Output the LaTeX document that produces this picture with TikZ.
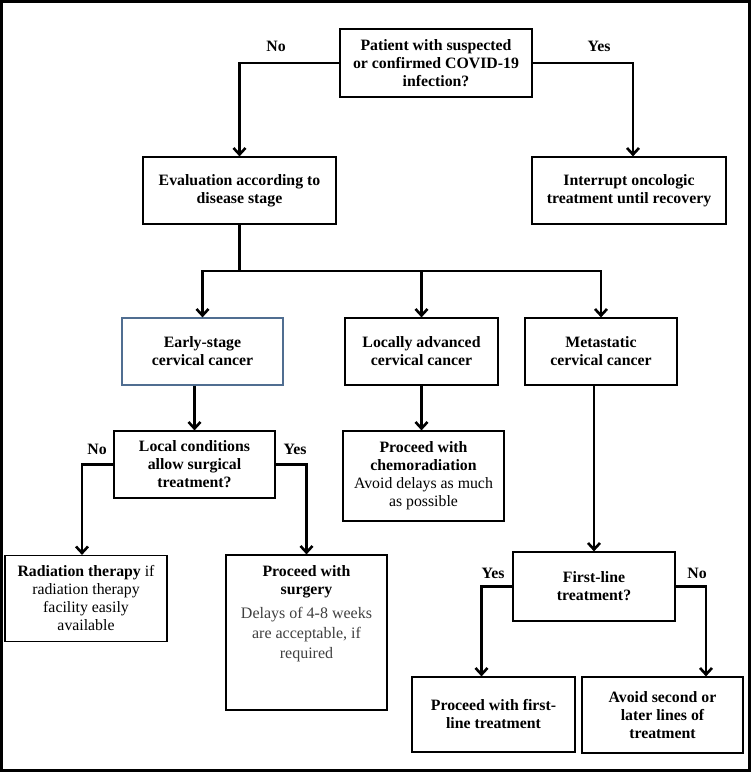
\documentclass[tikz,border=0pt]{standalone}
\usepackage{fontspec}
\setmainfont{Liberation Serif}
\usetikzlibrary{arrows.meta}
\begin{document}
\begin{tikzpicture}[x=1pt,y=-1pt,
  box/.style={draw=black,line width=1.2pt,fill=white,rectangle,inner sep=2pt,align=center,
    font=\fontsize{15.8}{18}\selectfont\bfseries},
  line/.style={draw=black,line width=2.9pt},
  arr/.style={line,-{Straight Barb[length=6.5pt,width=12pt,line width=2.6pt]}},
  lab/.style={font=\fontsize{15.8}{18}\selectfont\bfseries,inner sep=0pt}]
\useasboundingbox (0,0) rectangle (751,772);
\draw[line width=3pt] (1.5,1.5) rectangle (749.5,770.5);

\node[box,minimum width=192pt,minimum height=68pt] (pat) at (436,63) {Patient with suspected\\or confirmed COVID-19\\infection?};
\node[box,minimum width=193pt,minimum height=67pt] (eval) at (239.5,190.5) {Evaluation according to\\disease stage};
\node[box,minimum width=194pt,minimum height=67pt] (intr) at (629,190.5) {Interrupt oncologic\\treatment until recovery};
\node[box,draw={rgb,255:red,80;green,110;blue,145},minimum width=161pt,minimum height=67pt] (early) at (202.5,351.5) {Early-stage\\cervical cancer};
\node[box,minimum width=153pt,minimum height=67pt] (loc) at (421.5,351.5) {Locally advanced\\cervical cancer};
\node[box,minimum width=152pt,minimum height=67pt] (meta) at (601,351.5) {Metastatic\\cervical cancer};
\node[box,minimum width=161pt,minimum height=67pt] (cond) at (194.5,464.5) {Local conditions\\allow surgical\\treatment?};
\node[box,minimum width=161pt,minimum height=90pt] (chemo) at (423.5,476) {Proceed with\\chemoradiation\\{\mdseries Avoid delays as much}\\{\mdseries as possible}};
\node[box,minimum width=162pt,minimum height=86pt] (rad) at (86,598.5) {Radiation therapy{\mdseries{} if}\\{\mdseries radiation therapy}\\{\mdseries facility easily}\\{\mdseries available}};
\node[box,minimum width=161pt,minimum height=155pt,inner sep=0pt] (surg) at (306.5,632.5) {\parbox[c][153pt][t]{157pt}{\centering\vspace{10pt}Proceed with\\surgery\\[4pt]
  {\mdseries\fontsize{16}{20}\selectfont\color[gray]{0.25}Delays of 4-8 weeks\\are acceptable, if\\required\par}}};
\node[box,minimum width=162pt,minimum height=69pt] (first) at (594,586.5) {First-line\\treatment?};
\node[box,minimum width=163pt,minimum height=75pt] (pfl) at (493.5,714.5) {Proceed with first-\\line treatment};
\node[box,minimum width=161pt,minimum height=76pt] (avoid) at (662.5,715) {Avoid second or\\later lines of\\treatment};

% connectors
\coordinate (intrIn) at ([xshift=4pt]intr.north);
\draw[arr] (pat.west) -| (eval.north);
\draw[arr] (pat.east) -| (intrIn);
\coordinate (j) at (eval.south |- 0,271);
\draw[line] (eval.south) -- (j);
\draw[line,line cap=rect] (early.north |- j) -- (meta.north |- j);
\draw[arr] (early.north |- j) -- (early.north);
\draw[arr] (loc.north |- j) -- (loc.north);
\draw[arr] (meta.north |- j) -- (meta.north);
\draw[arr] (cond.north |- early.south) -- (cond.north);
\draw[arr] (loc.south) -- (loc.south |- chemo.north);
\draw[arr] (first.north |- meta.south) -- (first.north);
\coordinate (radIn) at ([xshift=-4pt]rad.north);
\draw[arr] (cond.west) -| (radIn);
\draw[arr] (cond.east) -| (surg.north);
\coordinate (pflIn) at ([xshift=-12pt]pfl.north);
\coordinate (avoidIn) at ([xshift=43.5pt]avoid.north);
\draw[arr] (first.west) -| (pflIn);
\draw[arr] (first.east) -| (avoidIn);

% labels
\node[lab] (l1) at (276,46) {No};
\node[lab] (l2) at (599,46) {Yes};
\node[lab] (l3) at (97,449) {No};
\node[lab] (l4) at (295,449) {Yes};
\node[lab] (l5) at (493,573) {Yes};
\node[lab] (l6) at (697,573) {No};
\end{tikzpicture}
\end{document}
